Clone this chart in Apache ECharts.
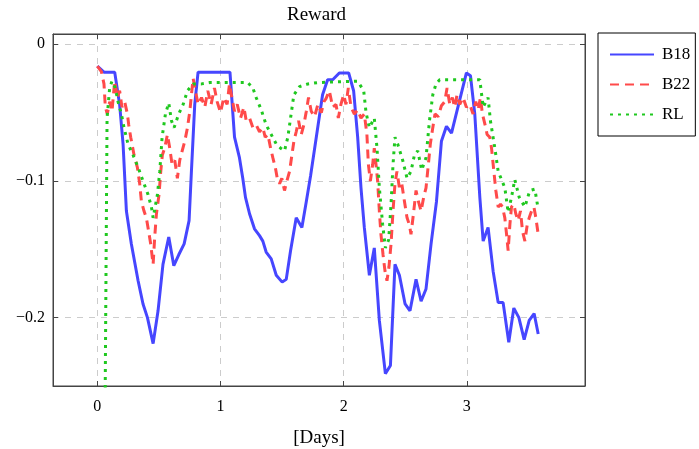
<!DOCTYPE html>
<html>
<head>
<meta charset="utf-8">
<script src="https://cdn.jsdelivr.net/npm/echarts@6/dist/echarts.min.js"></script>
<style>
  html, body { margin: 0; padding: 0; background: #fff; }
  #chart { width: 699px; height: 449px; }
</style>
</head>
<body>
<div id="chart"></div>
<script>
// x ticks / y ticks
const dayTicks = [0, 1, 2, 3]
const rewardTicks = [-0.2, -0.1, 0]

// [day, reward]
const b18 = [
  [0, -0.016], [0.054, -0.0204], [0.141, -0.0204], [0.181, -0.044], [0.209, -0.073],
  [0.236, -0.122], [0.276, -0.146], [0.331, -0.173], [0.371, -0.190], [0.407, -0.200],
  [0.453, -0.219], [0.493, -0.195], [0.533, -0.161], [0.580, -0.141], [0.621, -0.162],
  [0.661, -0.154], [0.705, -0.146], [0.745, -0.129], [0.764, -0.093], [0.791, -0.044],
  [0.818, -0.0204], [1.077, -0.0204], [1.114, -0.068], [1.154, -0.083], [1.181, -0.098],
  [1.203, -0.112], [1.236, -0.124], [1.276, -0.135], [1.317, -0.140], [1.344, -0.144],
  [1.371, -0.152], [1.412, -0.157], [1.453, -0.169], [1.501, -0.174], [1.534, -0.172],
  [1.569, -0.151], [1.615, -0.127], [1.661, -0.134], [1.697, -0.115], [1.732, -0.096],
  [1.778, -0.068], [1.829, -0.037], [1.870, -0.026], [1.911, -0.026], [1.965, -0.021],
  [2.041, -0.021], [2.081, -0.034], [2.114, -0.068], [2.141, -0.105], [2.168, -0.134],
  [2.209, -0.169], [2.249, -0.149], [2.290, -0.202], [2.339, -0.241], [2.380, -0.235],
  [2.417, -0.161], [2.453, -0.169], [2.499, -0.190], [2.539, -0.195], [2.588, -0.172],
  [2.629, -0.188], [2.669, -0.179], [2.710, -0.146], [2.754, -0.115], [2.794, -0.071],
  [2.835, -0.060], [2.876, -0.065], [2.920, -0.049], [2.997, -0.021], [3.030, -0.023],
  [3.065, -0.051], [3.106, -0.112], [3.133, -0.144], [3.173, -0.134], [3.214, -0.166],
  [3.255, -0.189], [3.295, -0.189], [3.341, -0.218], [3.382, -0.193], [3.423, -0.200],
  [3.466, -0.216], [3.507, -0.202], [3.547, -0.197], [3.580, -0.212]
]

const b22 = [
  [0, -0.016], [0.033, -0.020], [0.054, -0.029], [0.065, -0.046], [0.081, -0.051],
  [0.100, -0.042], [0.119, -0.049], [0.141, -0.027], [0.163, -0.039], [0.181, -0.034],
  [0.200, -0.046], [0.222, -0.042], [0.244, -0.051], [0.255, -0.059], [0.271, -0.068],
  [0.298, -0.081], [0.325, -0.090], [0.344, -0.102], [0.358, -0.115], [0.379, -0.122],
  [0.398, -0.127], [0.417, -0.137], [0.433, -0.146], [0.453, -0.161], [0.466, -0.141],
  [0.480, -0.124], [0.501, -0.110], [0.515, -0.093], [0.528, -0.081], [0.547, -0.076],
  [0.569, -0.066], [0.588, -0.076], [0.607, -0.088], [0.629, -0.085], [0.650, -0.098],
  [0.669, -0.085], [0.689, -0.078], [0.710, -0.071], [0.732, -0.061], [0.751, -0.049],
  [0.764, -0.037], [0.778, -0.025], [0.797, -0.034], [0.818, -0.044], [0.846, -0.039],
  [0.873, -0.046], [0.897, -0.034], [0.924, -0.044], [0.951, -0.032], [0.973, -0.042],
  [1.000, -0.050], [1.027, -0.039], [1.054, -0.044], [1.073, -0.029], [1.092, -0.039],
  [1.114, -0.049], [1.136, -0.044], [1.163, -0.054], [1.190, -0.046], [1.209, -0.056],
  [1.236, -0.054], [1.263, -0.061], [1.290, -0.059], [1.317, -0.064], [1.344, -0.061],
  [1.363, -0.068], [1.385, -0.066], [1.407, -0.076], [1.425, -0.083], [1.445, -0.090],
  [1.461, -0.098], [1.480, -0.102], [1.498, -0.098], [1.520, -0.107], [1.539, -0.100],
  [1.561, -0.093], [1.580, -0.081], [1.596, -0.071], [1.615, -0.064], [1.634, -0.056],
  [1.656, -0.066], [1.677, -0.059], [1.697, -0.049], [1.715, -0.039], [1.737, -0.049],
  [1.764, -0.053], [1.791, -0.044], [1.819, -0.050], [1.840, -0.042], [1.856, -0.040],
  [1.884, -0.034], [1.911, -0.046], [1.938, -0.044], [1.957, -0.054], [1.978, -0.044],
  [2.000, -0.037], [2.019, -0.044], [2.038, -0.032], [2.060, -0.046], [2.087, -0.051],
  [2.114, -0.048], [2.141, -0.054], [2.168, -0.051], [2.189, -0.066], [2.201, -0.088],
  [2.217, -0.100], [2.236, -0.088], [2.249, -0.076], [2.263, -0.088], [2.276, -0.100],
  [2.290, -0.122], [2.303, -0.139], [2.320, -0.154], [2.336, -0.166], [2.352, -0.173],
  [2.368, -0.163], [2.385, -0.146], [2.401, -0.122], [2.417, -0.102], [2.433, -0.093],
  [2.453, -0.105], [2.472, -0.102], [2.494, -0.115], [2.515, -0.127], [2.534, -0.132],
  [2.547, -0.139], [2.567, -0.124], [2.588, -0.107], [2.607, -0.115], [2.629, -0.122],
  [2.650, -0.112], [2.669, -0.105], [2.688, -0.088], [2.704, -0.073], [2.724, -0.061],
  [2.742, -0.051], [2.767, -0.053], [2.794, -0.045], [2.821, -0.042], [2.840, -0.032],
  [2.862, -0.044], [2.883, -0.039], [2.902, -0.046], [2.921, -0.037], [2.943, -0.044],
  [2.970, -0.039], [2.997, -0.046], [3.024, -0.044], [3.051, -0.051], [3.073, -0.042],
  [3.092, -0.048], [3.111, -0.039], [3.127, -0.051], [3.154, -0.061], [3.165, -0.066],
  [3.187, -0.068], [3.201, -0.076], [3.220, -0.093], [3.236, -0.107], [3.255, -0.119],
  [3.274, -0.117], [3.290, -0.119], [3.309, -0.127], [3.323, -0.139], [3.336, -0.151],
  [3.350, -0.132], [3.363, -0.119], [3.382, -0.117], [3.398, -0.124], [3.417, -0.129],
  [3.436, -0.122], [3.453, -0.137], [3.472, -0.144], [3.491, -0.132], [3.507, -0.127],
  [3.526, -0.122], [3.545, -0.119], [3.561, -0.127], [3.580, -0.139]
]

const rl = [
  [0, -1.1], [0.079, -0.054], [0.100, -0.032], [0.119, -0.027], [0.146, -0.032],
  [0.168, -0.042], [0.195, -0.051], [0.217, -0.061], [0.249, -0.073], [0.290, -0.081],
  [0.331, -0.090], [0.371, -0.100], [0.412, -0.110], [0.439, -0.119], [0.453, -0.127],
  [0.488, -0.110], [0.507, -0.093], [0.526, -0.068], [0.553, -0.051], [0.580, -0.043],
  [0.602, -0.056], [0.623, -0.061], [0.661, -0.051], [0.697, -0.044], [0.732, -0.034],
  [0.778, -0.029], [0.846, -0.029], [0.913, -0.028], [1.222, -0.028], [1.263, -0.032],
  [1.290, -0.039], [1.331, -0.048], [1.371, -0.059], [1.412, -0.066], [1.453, -0.073],
  [1.488, -0.076], [1.520, -0.078], [1.547, -0.068], [1.569, -0.054], [1.596, -0.037],
  [1.642, -0.031], [1.710, -0.029], [1.791, -0.028], [2.114, -0.027], [2.163, -0.034],
  [2.182, -0.050], [2.209, -0.061], [2.249, -0.054], [2.271, -0.076], [2.290, -0.105],
  [2.317, -0.132], [2.339, -0.149], [2.366, -0.143], [2.385, -0.117], [2.401, -0.088],
  [2.417, -0.068], [2.439, -0.073], [2.480, -0.085], [2.515, -0.098], [2.547, -0.093],
  [2.575, -0.081], [2.602, -0.078], [2.634, -0.092], [2.669, -0.083], [2.697, -0.056],
  [2.724, -0.037], [2.750, -0.029], [2.780, -0.026], [3.106, -0.026], [3.133, -0.046],
  [3.173, -0.039], [3.192, -0.056], [3.228, -0.076], [3.255, -0.093], [3.309, -0.105],
  [3.336, -0.123], [3.363, -0.112], [3.390, -0.099], [3.426, -0.112], [3.472, -0.119],
  [3.512, -0.107], [3.553, -0.106], [3.575, -0.118]
]

const serif = '"Liberation Serif", "DejaVu Serif", serif'

const chart = echarts.init(document.getElementById('chart'), null, { renderer: 'canvas' })

const fmtReward = (v) => (Math.abs(v) < 1e-9 ? '0' : '\u2212' + Math.abs(v).toFixed(1))

const gridLine = { show: true, lineStyle: { color: '#cccccc', type: [6, 6], width: 1 } }
const frame = { show: true, onZero: false, lineStyle: { color: '#444' } }
const inTick = (vals) => ({ show: true, inside: true, length: 5, customValues: vals, lineStyle: { color: '#444' } })

const options = {
  animation: false,
  backgroundColor: '#fff',
  grid: {
    left: 53, right: 114, top: 34, bottom: 63,
    outerBoundsMode: 'none', // 不让 v6 自动缩小绘图区
    show: true, borderColor: '#444', borderWidth: 1
  },
  graphic: [
    { type: 'text', left: 287, top: 6, style: { text: 'Reward', font: '19px ' + serif, fill: '#000' } }
  ],
  legend: {
    left: 598,
    top: 33,
    orient: 'vertical',
    padding: [13, 5, 13, 11],
    itemWidth: 44,
    itemHeight: 14,
    itemGap: 13,
    borderColor: '#000',
    borderWidth: 1,
    itemStyle: { opacity: 0 },
    textStyle: { fontFamily: serif, fontSize: 17, color: '#000', padding: [0, 0, 0, 3] },
    data: ['B18', 'B22', 'RL']
  },
  xAxis: [
    {
      type: 'value',
      min: -0.36,
      max: 3.96,
      name: '[Days]',
      nameLocation: 'middle',
      nameGap: 43,
      nameTextStyle: { fontFamily: serif, fontSize: 19, color: '#000' },
      axisLine: frame,
      axisTick: inTick(dayTicks),
      axisLabel: { customValues: dayTicks, fontFamily: serif, fontSize: 16, color: '#000', margin: 13 },
      splitLine: gridLine
    },
    {
      type: 'value',
      position: 'top',
      min: -0.36,
      max: 3.96,
      axisLine: frame,
      axisTick: inTick(dayTicks),
      axisLabel: { show: false },
      splitLine: { show: false }
    }
  ],
  yAxis: [
    {
      type: 'value',
      min: -0.25,
      max: 0.0075,
      axisLine: frame,
      axisTick: inTick(rewardTicks),
      axisLabel: { customValues: rewardTicks, formatter: fmtReward, fontFamily: serif, fontSize: 16, color: '#000', margin: 8 },
      splitLine: gridLine
    },
    {
      type: 'value',
      position: 'right',
      min: -0.25,
      max: 0.0075,
      axisLine: frame,
      axisTick: inTick(rewardTicks),
      axisLabel: { show: false },
      splitLine: { show: false }
    }
  ],
  series: [
    {
      name: 'B18', type: 'line', data: b18, symbol: 'none', clip: true,
      lineStyle: { color: '#4646ff', width: 3 }, itemStyle: { color: '#4646ff' }
    },
    {
      name: 'B22', type: 'line', data: b22, symbol: 'none', clip: true,
      lineStyle: { color: '#ff4a4a', width: 3, type: [9, 6] }, itemStyle: { color: '#ff4a4a' }
    },
    {
      name: 'RL', type: 'line', data: rl, symbol: 'none', clip: true,
      lineStyle: { color: '#1fc81f', width: 3, type: [3, 5] }, itemStyle: { color: '#1fc81f' }
    }
  ]
}

chart.setOption(options)
</script>
</body>
</html>
